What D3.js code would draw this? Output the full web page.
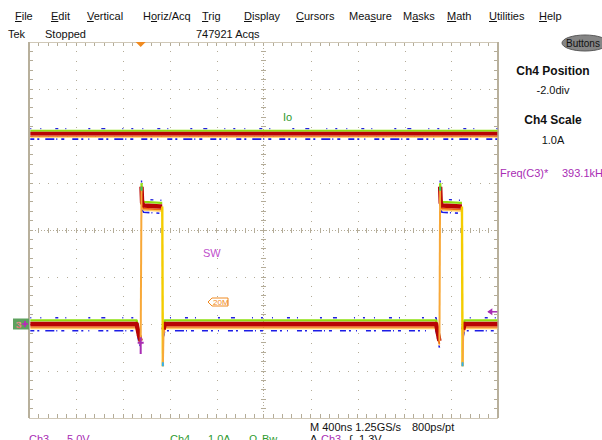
<!DOCTYPE html>
<html><head><meta charset="utf-8">
<script src="https://cdn.jsdelivr.net/npm/d3@7"></script>
<style>
html,body{margin:0;padding:0;background:#fff;overflow:hidden}
svg{display:block}
text{font-family:"Liberation Sans",Arial,sans-serif}
</style></head><body>
<svg id="c" width="602" height="440"></svg>
<script>
// ---------- data ----------
const menuItems = ["File","Edit","Vertical","Horiz/Acq","Trig","Display","Cursors","Measure","Masks","Math","Utilities","Help"];
const menuHotkeyIndex = [0,0,0,1,0,0,0,3,1,0,0,0];
const timePerDivNs = 400;
const hDivs = 10, vDivs = 8, subDivs = 5;
const ch3VoltsPerDiv = 5, ch4AmpsPerDiv = 1;
const ch3PositionDiv = -2, ch4PositionDiv = -2;
// Ch3 (SW node) voltage
const swTimeNs = [-2000,-1085,-1065,-1050,-1043,-1038,-1025,-880,-866,-861,-855,-845,
                  1470,1488,1498,1504,1509,1520,1678,1690,1695,1701,1712,2000];
const swVolts  = [0.0,0.0,-1.2,-1.8,14.6,12.9,12.6,12.5,12.5,-4.5,-0.6,0.0,
                  0.0,-1.2,-1.8,14.6,12.9,12.6,12.5,12.5,-4.5,-0.6,0.0,0.0];
// Ch4 (Io) current
const ioTimeNs = [-2000,-1000,0,1000,2000];
const ioAmps   = [4.05,4.05,4.05,4.05,4.05];
const triggerTimeNs = -1050;
const triggerLevelV = 1.3;
const statusTexts = ["Tek","Stopped","747921 Acqs"];
const panelTexts = ["Ch4 Position","-2.0div","Ch4 Scale","1.0A"];
const measLabel = "Freq(C3)*", measValue = "393.1kHz";
const horizTexts = ["M 400ns 1.25GS/s","800ps/pt"];
const chanRow = [["Ch3","ch3"],["5.0V","ch3"],["Ch4","ch4"],["1.0A","ch4"],["Ω","ch4"],["Bw","ch4"],["A","k"],["Ch3","ch3"],["∫","k"],["1.3V","k"]];

// ---------- layout / style ----------
const L = {left:29.3, right:498.3, top:42, bottom:418};
const menuX = [15,51,87,143,202,244,296,349,403,447,489,539];
const statusX = [8,45,196];
const chanRowX = [29,67,170,208,249,262,310,321,349,359];
const C = {ch3:"#a82cb4", ch4:"#2e9a2e", k:"#111", grid:"#b4ac98", frame:"#b8b09c", orange:"#f08a20"};

const svg = d3.select("#c");
const x = d3.scaleLinear().domain([-hDivs/2*timePerDivNs, hDivs/2*timePerDivNs]).range([L.left, L.right]);
const yDiv = d3.scaleLinear().domain([-vDivs/2, vDivs/2]).range([L.bottom, L.top]);
const y3 = v => yDiv(v/ch3VoltsPerDiv + ch3PositionDiv);
const y4 = a => yDiv(a/ch4AmpsPerDiv + ch4PositionDiv);
const xDiv = d3.scaleLinear().domain([-hDivs/2, hDivs/2]).range([L.left, L.right]);

// ---------- menu ----------
const mg = svg.append("g");
menuItems.forEach((m,i)=>{
  const t = mg.append("text").attr("x",menuX[i]).attr("y",20).attr("font-size",11).attr("fill","#111").text(m);
  const n = t.node();
  const k = menuHotkeyIndex[i];
  const x0 = menuX[i] + (k>0 ? n.getSubStringLength(0,k) : 0);
  const w = n.getSubStringLength(k,1);
  mg.append("line").attr("x1",x0).attr("x2",x0+w).attr("y1",21.5).attr("y2",21.5).attr("stroke","#111").attr("stroke-width",1);
});
statusTexts.forEach((s,i)=>svg.append("text").attr("x",statusX[i]).attr("y",38).attr("font-size",11).attr("fill","#111").text(s));

// Buttons
svg.append("ellipse").attr("cx",585).attr("cy",43).attr("rx",23).attr("ry",8).attr("fill","#858585").attr("stroke","#5a5a5a");
svg.append("text").attr("x",566).attr("y",47).attr("font-size",10).attr("fill","#111").text("Buttons");

// ---------- graticule ----------
const g = svg.append("g").attr("shape-rendering","crispEdges");
const majX = d3.range(-hDivs/2, hDivs/2+1), majY = d3.range(-vDivs/2, vDivs/2+1);
const fineX = d3.range(-hDivs/2*subDivs, hDivs/2*subDivs+1).map(d=>d/subDivs);
const fineY = d3.range(-vDivs/2*subDivs, vDivs/2*subDivs+1).map(d=>d/subDivs);
majX.filter(d=>d!==0 && Math.abs(d)!==hDivs/2).forEach(dx=>{
  fineY.forEach(dy=>g.append("rect").attr("x",Math.round(xDiv(dx))).attr("y",Math.round(yDiv(dy))).attr("width",1).attr("height",1).attr("fill",C.grid));
});
majY.filter(d=>d!==0 && Math.abs(d)!==vDivs/2).forEach(dy=>{
  fineX.forEach(dx=>g.append("rect").attr("x",Math.round(xDiv(dx))).attr("y",Math.round(yDiv(dy))).attr("width",1).attr("height",1).attr("fill",C.grid));
});
g.append("line").attr("x1",xDiv(0)).attr("x2",xDiv(0)).attr("y1",L.top).attr("y2",L.bottom).attr("stroke",C.grid).attr("stroke-dasharray","1,2");
g.append("line").attr("x1",L.left).attr("x2",L.right).attr("y1",yDiv(0)).attr("y2",yDiv(0)).attr("stroke",C.grid).attr("stroke-dasharray","1,2");
fineY.forEach(dy=>g.append("line").attr("x1",xDiv(0)-2.5).attr("x2",xDiv(0)+2.5).attr("y1",yDiv(dy)).attr("y2",yDiv(dy)).attr("stroke",C.grid));
fineX.forEach(dx=>g.append("line").attr("x1",xDiv(dx)).attr("x2",xDiv(dx)).attr("y1",yDiv(0)-2.5).attr("y2",yDiv(0)+2.5).attr("stroke",C.grid));
fineX.forEach(dx=>{
  g.append("line").attr("x1",xDiv(dx)).attr("x2",xDiv(dx)).attr("y1",L.top).attr("y2",L.top+4).attr("stroke",C.grid);
  g.append("line").attr("x1",xDiv(dx)).attr("x2",xDiv(dx)).attr("y1",L.bottom-4).attr("y2",L.bottom).attr("stroke",C.grid);
});
fineY.forEach(dy=>{
  g.append("line").attr("x1",L.left).attr("x2",L.left+4).attr("y1",yDiv(dy)).attr("y2",yDiv(dy)).attr("stroke",C.grid);
  g.append("line").attr("x1",L.right-4).attr("x2",L.right).attr("y1",yDiv(dy)).attr("y2",yDiv(dy)).attr("stroke",C.grid);
});
g.append("line").attr("x1",L.left).attr("x2",L.right).attr("y1",L.top).attr("y2",L.top).attr("stroke","#d0c8b8");
g.append("line").attr("x1",L.left).attr("x2",L.right).attr("y1",L.bottom).attr("y2",L.bottom).attr("stroke","#d0c8b8");
g.append("line").attr("x1",L.left).attr("x2",L.left).attr("y1",L.top).attr("y2",L.bottom).attr("stroke",C.frame).attr("stroke-width",2);
g.append("line").attr("x1",L.right).attr("x2",L.right).attr("y1",L.top).attr("y2",L.bottom).attr("stroke",C.frame).attr("stroke-width",2);

// ---------- traces (colour-graded persistence look) ----------
svg.append("clipPath").attr("id","pc").append("rect").attr("x",L.left+1).attr("y",L.top).attr("width",L.right-L.left-2).attr("height",L.bottom-L.top);
const tg = svg.append("g").attr("clip-path","url(#pc)");
const line = d3.line();
function drawTrace(times, vals, yf, edgeThresh, s){
  const pts = times.map((t,i)=>[x(t), yf(vals[i]), vals[i]]);
  const levels = [], edges = [];
  let cur = [pts[0]];
  for(let i=1;i<pts.length;i++){
    const dv = pts[i][2]-pts[i-1][2];
    if(Math.abs(dv) > edgeThresh){
      if(cur.length>1) levels.push(cur);
      edges.push({a:pts[i-1], b:pts[i], rising: dv>0});
      cur=[pts[i]];
    } else cur.push(pts[i]);
  }
  if(cur.length>1) levels.push(cur);
  const layers = [
    {off:-4.8*s, w:1.4, c:"#2222dd", dash:"2,9,1,14,3,7,1,22,2,11,4,17,1,8"},
    {off: 5.2*s, w:1.6, c:"#1c1ce6", dash:"5,3,2,6,9,2,1,4,3,8,6,3,2,5,1,9"},
    {off:-2.8*s, w:1.8*s, c:"#8ee010"},
    {off: 3.4*s, w:1.2*s, c:"#ffc860"},
    {off: 2.3*s, w:1.3*s, c:"#f06a10"},
    {off: 0, w:3.4*s, c:"#b80404"}
  ];
  layers.forEach(l=>{
    levels.forEach(seg=>{
      tg.append("path").attr("d",line(seg.map(p=>[p[0],p[1]+l.off]))).attr("fill","none")
        .attr("stroke",l.c).attr("stroke-width",l.w).attr("stroke-dasharray",l.dash||null).attr("stroke-linejoin","round");
    });
  });
  edges.forEach(e=>{
    tg.append("path").attr("d",line([[e.a[0],e.a[1]],[e.b[0],e.b[1]]])).attr("fill","none")
      .attr("stroke", e.rising ? "#f8a838" : "#f4cc00").attr("stroke-width", e.rising?2:2.4);
  });
  edges.forEach(e=>{
    if(Math.abs(e.b[2]-e.a[2])>10){
      tg.append("path").attr("d",line([[e.b[0],e.b[1]],[e.b[0],e.b[1]+(e.rising?4:-4)]])).attr("stroke", e.rising?"#30d060":"#30b0f0").attr("stroke-width",2);
    }
  });
}
drawTrace(ioTimeNs, ioAmps, y4, 0.5, 1.05);
drawTrace(swTimeNs, swVolts, y3, 3, 1.3);

// ---------- markers ----------
const tx = x(triggerTimeNs);
svg.append("path").attr("d",`M${tx-5},${L.top}L${tx+5},${L.top}L${tx},${L.top+5}Z`).attr("fill",C.orange);
const ty = y3(triggerLevelV);
svg.append("path").attr("d",`M${L.right-10},${ty}L${L.right-1},${ty}`).attr("stroke",C.ch3).attr("stroke-width",1.5);
svg.append("path").attr("d",`M${L.right-11},${ty}L${L.right-6},${ty-3.5}L${L.right-6},${ty+3.5}Z`).attr("fill",C.ch3);
svg.append("path").attr("d",`M${tx-3},${y3(-2)}L${tx+3},${y3(-2)}M${tx},${y3(-1.4)}L${tx},${y3(-3.2)}`).attr("stroke",C.ch3).attr("stroke-width",2);
const gy = y3(0);
svg.append("rect").attr("x",13).attr("y",gy-5.5).attr("width",16).attr("height",11).attr("fill","#5ea25e");
svg.append("text").attr("x",16).attr("y",gy+3.5).attr("font-size",9.5).attr("fill","#fff").attr("stroke","#e05050").attr("stroke-width",0.4).text("3");
svg.append("path").attr("d",`M${22},${gy}L${28},${gy}M${25},${gy-3}L${25},${gy+3}`).attr("stroke","#c020c0").attr("stroke-width",1.6);

svg.append("text").attr("x",283).attr("y",121).attr("font-size",11).attr("fill",C.ch4).text("Io");
svg.append("text").attr("x",203).attr("y",257).attr("font-size",11).attr("fill","#c050cc").text("SW");
svg.append("path").attr("d","M208,302L212,298L228,298L228,306L212,306Z").attr("fill","#fff").attr("stroke",C.orange).attr("stroke-width",1);
svg.append("text").attr("x",213).attr("y",305.3).attr("font-size",8).attr("fill",C.orange).text("20M");

// ---------- right panel ----------
const pY = [75,94,124,144], pBold=[true,false,true,false];
panelTexts.forEach((s,i)=>svg.append("text").attr("x",553).attr("y",pY[i]).attr("text-anchor","middle")
  .attr("font-size",pBold[i]?12:11).attr("font-weight",pBold[i]?"bold":"normal").attr("fill","#111").text(s));
svg.append("text").attr("x",500).attr("y",177).attr("font-size",11).attr("fill",C.ch3).text(measLabel);
svg.append("text").attr("x",562).attr("y",177).attr("font-size",11).attr("fill",C.ch3).text(measValue);

// ---------- bottom readouts ----------
svg.append("text").attr("x",310).attr("y",431).attr("font-size",11).attr("fill","#111").text(horizTexts[0]);
svg.append("text").attr("x",412).attr("y",431).attr("font-size",11).attr("fill","#111").text(horizTexts[1]);
chanRow.forEach((r,i)=>svg.append("text").attr("x",chanRowX[i]).attr("y",442.5).attr("font-size",11).attr("fill",C[r[1]]).text(r[0]));
</script>
</body></html>
